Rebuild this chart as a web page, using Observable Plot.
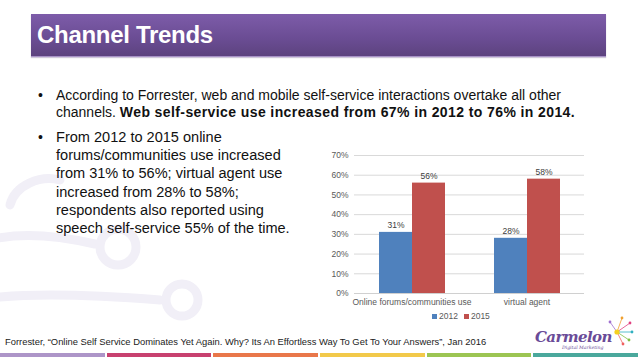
<!DOCTYPE html>
<html>
<head>
<meta charset="utf-8">
<script src="https://cdn.jsdelivr.net/npm/d3@7"></script>
<script src="https://cdn.jsdelivr.net/npm/@observablehq/plot@0.6"></script>
<style>
  html, body { margin: 0; padding: 0; background: #fff; }
  body { width: 638px; height: 359px; position: relative; overflow: hidden; font-family: "Liberation Sans", Arial, sans-serif; color: #111; }
  .abs { position: absolute; }
  #titlebar { left: 31px; top: 14px; width: 575px; height: 42px;
    background: linear-gradient(#7d5ca9, #6a4c93 60%, #5d437f);
    border-bottom: 1px solid #a892c7; box-shadow: 0 1px 1px rgba(120,100,150,0.35); }
  #titlebar span { position: absolute; left: 6px; top: 7px; color: #fff; font-weight: bold; font-size: 24px; letter-spacing: -0.3px; }
  .bullet { left: 38px; font-size: 14px; }
  .btext { left: 56px; }
  #b1 { top: 87px; line-height: 16.5px; width: 575px; font-size: 14px; white-space: nowrap; }
  #b1 b { letter-spacing: 0.4px; }
  #b2 { top: 128px; line-height: 18.2px; font-size: 14.55px; width: 260px; white-space: nowrap; }
  #foot { left: 5px; top: 336px; font-size: 9.4px; color: #222; white-space: nowrap; }
  #strip { left: 0; top: 353px; width: 638px; height: 4px; display: flex; gap: 2px; }
  #strip div { flex: 1; }
  #legend { left: 432px; top: 311px; font-size: 8.5px; color: #595959; white-space: nowrap; }
  #legend i { display: inline-block; width: 5px; height: 5px; margin-right: 2px; vertical-align: 0px; }
  #chart { left: 300px; top: 145px; }
  #logo { left: 530px; top: 315px; }
</style>
</head>
<body>
<svg class="abs" style="left:0;top:0" width="638" height="359">
  <g fill="none" stroke="#f1eff7" stroke-width="9" stroke-linecap="round">
    <path d="M -10 240 C 20 232, 60 236, 95 244"/>
    <circle cx="118" cy="247" r="18"/>
    <path d="M -10 298 C 40 292, 110 296, 160 300"/>
    <circle cx="182" cy="300" r="16"/>
    <path d="M 10 205 C 15 185, 40 175, 60 180"/>
  </g>
</svg>

<div id="titlebar" class="abs"><span>Channel Trends</span></div>

<div class="abs bullet" style="top:87px;line-height:16.5px">•</div>
<div id="b1" class="abs btext">According to Forrester, web and mobile self-service interactions overtake all other<br>channels. <b>Web self-service use increased from 67% in 2012 to 76% in 2014.</b></div>

<div class="abs bullet" style="top:128px;line-height:18.2px">•</div>
<div id="b2" class="abs btext">From 2012 to 2015 online<br>forums/communities use increased<br>from 31% to 56%; virtual agent use<br>increased from 28% to 58%;<br>respondents also reported using<br>speech self-service 55% of the time.</div>

<div id="chart" class="abs"></div>
<div id="legend" class="abs"></div>

<div id="foot" class="abs">Forrester, “Online Self Service Dominates Yet Again. Why? Its An Effortless Way To Get To Your Answers”, Jan 2016</div>

<svg id="logo" class="abs" width="106" height="38">
  <g stroke-width="0.8">
    <line x1="87" y1="17" x2="92" y2="3" stroke="#f0a030"/>
    <line x1="87" y1="17" x2="100" y2="8" stroke="#e04080"/>
    <line x1="87" y1="17" x2="102" y2="17" stroke="#30b0c0"/>
    <line x1="87" y1="17" x2="99" y2="25" stroke="#80c040"/>
    <line x1="87" y1="17" x2="80" y2="7" stroke="#a070d0"/>
    <line x1="87" y1="17" x2="93" y2="29" stroke="#f06060"/>
    <circle cx="92" cy="3" r="1.4" fill="#f0a030"/>
    <circle cx="100" cy="8" r="1.4" fill="#e04080"/>
    <circle cx="102" cy="17" r="1.4" fill="#30b0c0"/>
    <circle cx="99" cy="25" r="1.4" fill="#80c040"/>
    <circle cx="80" cy="7" r="1.4" fill="#a070d0"/>
    <circle cx="93" cy="29" r="1.4" fill="#f06060"/>
    <circle cx="87" cy="17" r="2.6" fill="#f5d020"/>
  </g>
  <text x="5" y="27" font-family="'DejaVu Serif', serif" font-weight="bold" font-style="italic" font-size="15" fill="#6a4b98" letter-spacing="-0.6">Carmelon</text>
  <text x="32" y="34" font-family="'DejaVu Serif', serif" font-style="italic" font-size="4.6" fill="#6a4b98">Digital Marketing</text>
</svg>

<div id="strip" class="abs">
  <div style="background:#ad95c8"></div>
  <div style="background:#c8416f"></div>
  <div style="background:#e9774a"></div>
  <div style="background:#f2c94a"></div>
  <div style="background:#9cc553"></div>
  <div style="background:#4aa89c"></div>
</div>

<script>
const categories = ["Online forums/communities use", "virtual agent"];
const years = ["2012", "2015"];
const values2012 = [31, 28];
const values2015 = [56, 58];
const yTicks = [0, 10, 20, 30, 40, 50, 60, 70];
const colors = ["#4f81bd", "#c0504d"];

const data = categories.flatMap((c, i) => [
  {category: c, year: years[0], value: values2012[i]},
  {category: c, year: years[1], value: values2015[i]}
]);

const chart = Plot.plot({
  width: 300,
  height: 190,
  marginLeft: 54,
  marginRight: 16,
  marginTop: 10,
  marginBottom: 42,
  style: {fontFamily: "'Liberation Sans', Arial, sans-serif", fontSize: "8.5px", color: "#595959", background: "transparent"},
  fx: {domain: categories, paddingInner: 0, paddingOuter: 0, label: null},
  x: {domain: years, paddingInner: 0, paddingOuter: 0.742, axis: null},
  y: {domain: [0, 70], label: null},
  color: {domain: years, range: colors},
  marks: [
    Plot.gridY(yTicks, {stroke: "#d9d9d9", strokeOpacity: 1}),
    Plot.axisY(yTicks, {tickSize: 0, tickPadding: 6, tickFormat: d => d + "%", fill: "#595959", label: null}),
    Plot.axisFx({anchor: "bottom", tickSize: 0, tickPadding: 5, fill: "#595959", label: null}),
    Plot.ruleY([0], {stroke: "#d0d0d0"}),
    Plot.barY(data, {fx: "category", x: "year", y: "value", fill: "year"}),
    Plot.text(data, {fx: "category", x: "year", y: "value", text: d => d.value + "%", dy: -7, fill: "#404040", fontSize: 8.5})
  ]
});
document.getElementById("chart").appendChild(chart);

const legend = document.getElementById("legend");
legend.innerHTML = years.map((y, i) => `<span style="margin-right:6px"><i style="background:${colors[i]}"></i>${y}</span>`).join("");
</script>
</body>
</html>
